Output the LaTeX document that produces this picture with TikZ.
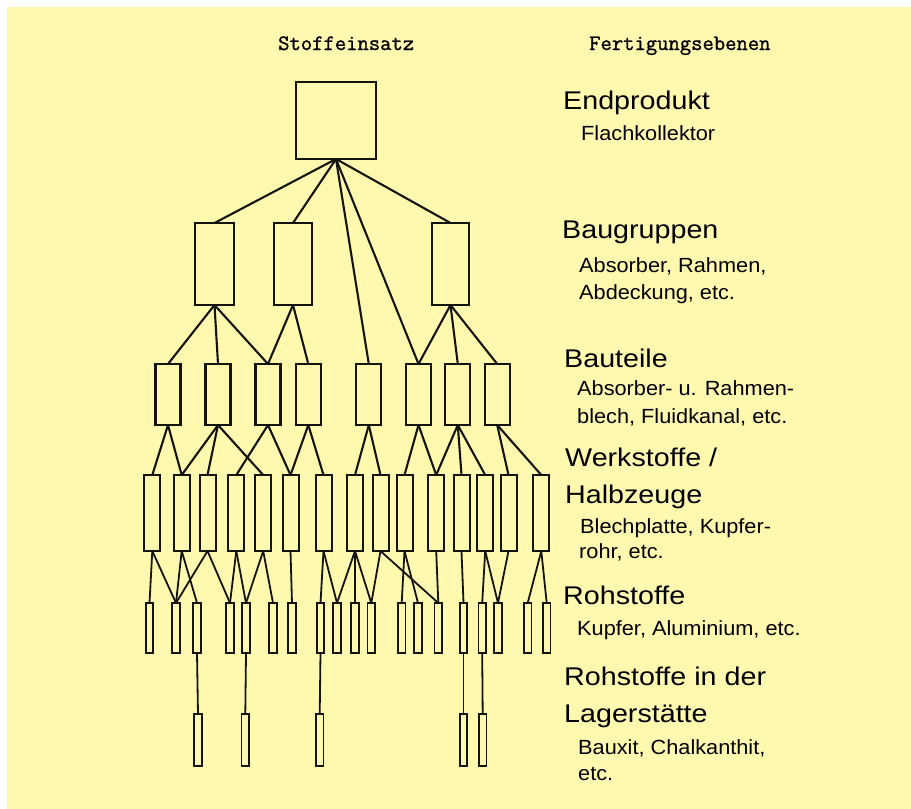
\documentclass[tikz,border=0pt]{standalone}
\usepackage{fontspec}
\newfontfamily\bigf[FakeStretch=1.12]{Liberation Sans}
\newfontfamily\smallf[FakeStretch=1.06]{Liberation Sans}
\newfontfamily\hdrf[FakeBold=1.2]{Latin Modern Mono}
\definecolor{bgyellow}{RGB}{255,249,176}
\definecolor{ink}{RGB}{20,20,15}
\tikzset{
  box/.style={draw=ink, line width=2.2pt, inner sep=0pt, outer sep=0pt},
  pbox/.style={box, minimum width=80pt, minimum height=77pt},
  gbox/.style={box, minimum width=38pt, minimum height=82pt},
  tbox/.style={box, minimum width=25pt, minimum height=61pt},
  wbox/.style={box, line width=2pt, minimum width=16pt, minimum height=76pt},
  rbox/.style={box, line width=1.8pt, minimum width=7.5pt, minimum height=50pt},
  sbox/.style={box, line width=1.8pt, minimum width=7.5pt, minimum height=52pt},
  conn/.style={draw=ink, line width=2.1pt},
  connb/.style={draw=ink, line width=1.8pt},
  hdr/.style={anchor=base west, inner sep=0pt, font=\hdrf\fontsize{22}{26}\selectfont},
  lvl/.style={anchor=base west, inner sep=0pt, font=\bigf\fontsize{25.6}{30}\selectfont},
  sub/.style={anchor=base west, inner sep=0pt, font=\smallf\fontsize{20.5}{24}\selectfont}
}
\begin{document}
\begin{tikzpicture}[x=1pt,y=-1pt]
\useasboundingbox (0,0) rectangle (911,809);
\fill[white] (0,0) rectangle (911,809);
\fill[bgyellow] (7,7) rectangle (911,809);
% headers
\node[hdr] (h1) at (278,50) {Stoffeinsatz};
\node[hdr] (h2) at (589,50) {Fertigungsebenen};
% level 1
\node[pbox] (P) at (336,120.5) {};
% level 2
\node[gbox, minimum width=39pt] (A) at (214.5,264) {};
\node[gbox] (B) at (293,264) {};
\node[gbox, minimum width=37pt] (C) at (450.5,264) {};
% level 3
\foreach \n/\x in {1/168,2/218,3/268,4/308.3,5/368.8,6/418.5,7/457.8,8/497.2}
  \node[tbox] (T\n) at (\x,394.5) {};
% level 4
\foreach \n/\x in {1/152.3,2/181.7,3/207.5,4/236.3,5/263.2,6/290.5,7/323.5,8/355,9/380.5,10/404.5,11/436.2,12/461.5,13/485.2,14/508.5,15/541.3}
  \node[wbox] (W\n) at (\x,513) {};
% level 5
\foreach \n/\x in {1/149.5,2/176,3/197,4/230,5/246,6/273,7/292,8/320.5,9/337,10/355,11/371.3,12/401.7,13/418,14/438.3,15/463.5,16/482.2,17/498,18/527.7,19/546.7}
  \node[rbox] (R\n) at (\x,628) {};
% level 6
\foreach \n/\x in {1/198,2/245.3,3/319.7,4/463.5,5/482.7}
  \node[sbox] (S\n) at (\x,740) {};
% connectors
\foreach \a/\b in {P/A,P/B,P/T5,P/T6,P/C,A/T1,A/T2,A/T3,B/T3,B/T4,C/T6,C/T7,C/T8}
  \draw[conn] (\a.south) -- (\b.north);
\foreach \a/\b in {T1/W1,T1/W2,T2/W2,T2/W3,T2/W5,T3/W4,T3/W6,T4/W6,T4/W7,T5/W8,T5/W9,T6/W10,T6/W11,T7/W11,T7/W12,T7/W13,T8/W14,T8/W15}
  \draw[conn] (\a.south) -- (\b.north);
\foreach \a/\b in {W1/R1,W1/R2,W2/R2,W2/R3,W3/R2,W3/R4,W4/R4,W4/R5,W5/R5,W5/R6,W6/R7,W7/R8,W7/R9,W8/R9,W8/R10,W8/R11,W9/R11,W9/R14,W10/R12,W10/R13,W11/R14,W12/R15,W13/R16,W13/R17,W14/R17,W15/R18,W15/R19}
  \draw[connb] (\a.south) -- (\b.north);
\foreach \a/\b in {R3/S1,R5/S2,R8/S3,R15/S4,R16/S5}
  \draw[connb] (\a.south) -- (\b.north);
% right-hand texts
\node[lvl] (t1) at (563,109.3) {Endprodukt};
\node[sub] (t1a) at (581,140) {Flachkollektor};
\node[lvl] (t2) at (562,238.3) {Baugruppen};
\node[sub] (t2a) at (579,272.3) {Absorber, Rahmen,};
\node[sub] (t2b) at (579,299.3) {Abdeckung, etc.};
\node[lvl] (t3) at (564,367.3) {Bauteile};
\node[sub] (t3a) at (577,395.3) {Absorber- u. Rahmen-};
\node[sub] (t3b) at (577,423.3) {blech, Fluidkanal, etc.};
\node[lvl] (t4) at (565,466) {Werkstoffe /};
\node[lvl] (t4b) at (565,503.3) {Halbzeuge};
\node[sub] (t4c) at (580,533.3) {Blechplatte, Kupfer-};
\node[sub] (t4d) at (579,558) {rohr, etc.};
\node[lvl] (t5) at (563,604.3) {Rohstoffe};
\node[sub] (t5a) at (577,635.7) {Kupfer, Aluminium, etc.};
\node[lvl] (t6) at (564,685) {Rohstoffe in der};
\node[lvl] (t6b) at (564,722.3) {Lagerstätte};
\node[sub] (t6c) at (578,754) {Bauxit, Chalkanthit,};
\node[sub] (t6d) at (578,780) {etc.};
\end{tikzpicture}
\end{document}
